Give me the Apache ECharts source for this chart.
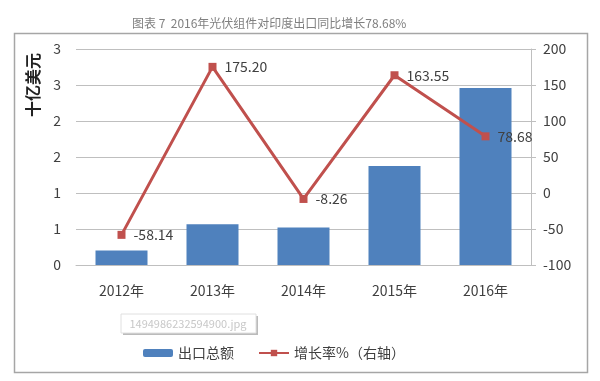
<!DOCTYPE html>
<html>
<head>
<meta charset="utf-8">
<script src="https://cdn.jsdelivr.net/npm/echarts@6/dist/echarts.min.js"></script>
<style>html,body{margin:0;padding:0;background:#fff;}#c{width:600px;height:381px;}</style>
</head>
<body>
<div id="c"></div>
<script>
var categories = ['2012年', '2013年', '2014年', '2015年', '2016年'];
var exportTotal = [0.20, 0.565, 0.52, 1.375, 2.46];
var growthRate = [-58.14, 175.20, -8.26, 163.55, 78.68];
var seriesNames = ['出口总额', '增长率%（右轴）'];
var titleText = '图表 7  2016年光伏组件对印度出口同比增长78.68%';
var leftAxisName = '十亿美元';

var font = '"Noto Sans CJK SC", "Liberation Sans", sans-serif';
var chart = echarts.init(document.getElementById('c'), null, {renderer: 'canvas'});
chart.setOption({
  animation: false,
  backgroundColor: '#fff',
  title: {
    text: titleText, left: 127, top: 12,
    textStyle: {fontSize: 12, color: '#808080', fontWeight: 'normal', fontFamily: font}
  },
  grid: {left: 76, right: 69, top: 49, bottom: 116},
  legend: {
    data: seriesNames, left: 138, top: 341, itemWidth: 30, itemHeight: 8, itemGap: 24,
    textStyle: {fontSize: 14, color: '#404040', fontFamily: font}
  },
  xAxis: {
    type: 'category', data: categories,
    axisLine: {show: true, lineStyle: {color: '#bfbfbf', width: 1}},
    axisTick: {show: false},
    axisLabel: {color: '#404040', fontSize: 14, margin: 19, fontFamily: font}
  },
  yAxis: [{
    type: 'value', min: 0, max: 3, interval: 0.5,
    axisLine: {show: false}, axisTick: {show: false},
    splitLine: {lineStyle: {color: '#bfbfbf', width: 1}},
    axisLabel: {color: '#404040', fontSize: 14, margin: 15, fontFamily: font,
      formatter: function (v) { return String(Math.round(v)); }}
  }, {
    type: 'value', min: -100, max: 200, interval: 50,
    axisLine: {show: true, lineStyle: {color: '#bfbfbf', width: 1}},
    axisTick: {show: true, length: 5, lineStyle: {color: '#bfbfbf'}},
    splitLine: {show: false},
    axisLabel: {color: '#404040', fontSize: 14, margin: 12, fontFamily: font}
  }],
  series: [{
    name: seriesNames[0], type: 'bar', data: exportTotal, barWidth: 52,
    itemStyle: {color: '#4F81BD'}
  }, {
    name: seriesNames[1], type: 'line', yAxisIndex: 1, data: growthRate,
    symbol: 'rect', symbolSize: 8,
    lineStyle: {color: '#C0504D', width: 3},
    itemStyle: {color: '#C0504D'},
    label: {show: true, position: 'right', distance: 8, color: '#404040', fontSize: 14, fontFamily: font,
      formatter: function (p) { return p.value.toFixed(2); }}
  }],
  graphic: [
    {type: 'rect', shape: {x: 14.5, y: 33.5, width: 573, height: 339}, style: {fill: null, stroke: '#a6a6a6', lineWidth: 1.5}, silent: true},
    {type: 'text', x: 33, y: 85, rotation: Math.PI / 2,
      style: {text: leftAxisName, fontSize: 16, fontWeight: 'bold', fill: '#222', fontFamily: font, align: 'center', verticalAlign: 'middle'}},
    {type: 'rect', shape: {x: 123, y: 316, width: 135, height: 19}, style: {fill: '#bbb'}},
    {type: 'rect', shape: {x: 121, y: 314, width: 135, height: 19}, style: {fill: '#fff', stroke: '#e0e0e0', lineWidth: 1}},
    {type: 'text', x: 188, y: 323.5, style: {text: '1494986232594900.jpg', fontSize: 11, fill: '#c8c8c8', fontFamily: font, align: 'center', verticalAlign: 'middle'}}
  ]
});
</script>
</body>
</html>
